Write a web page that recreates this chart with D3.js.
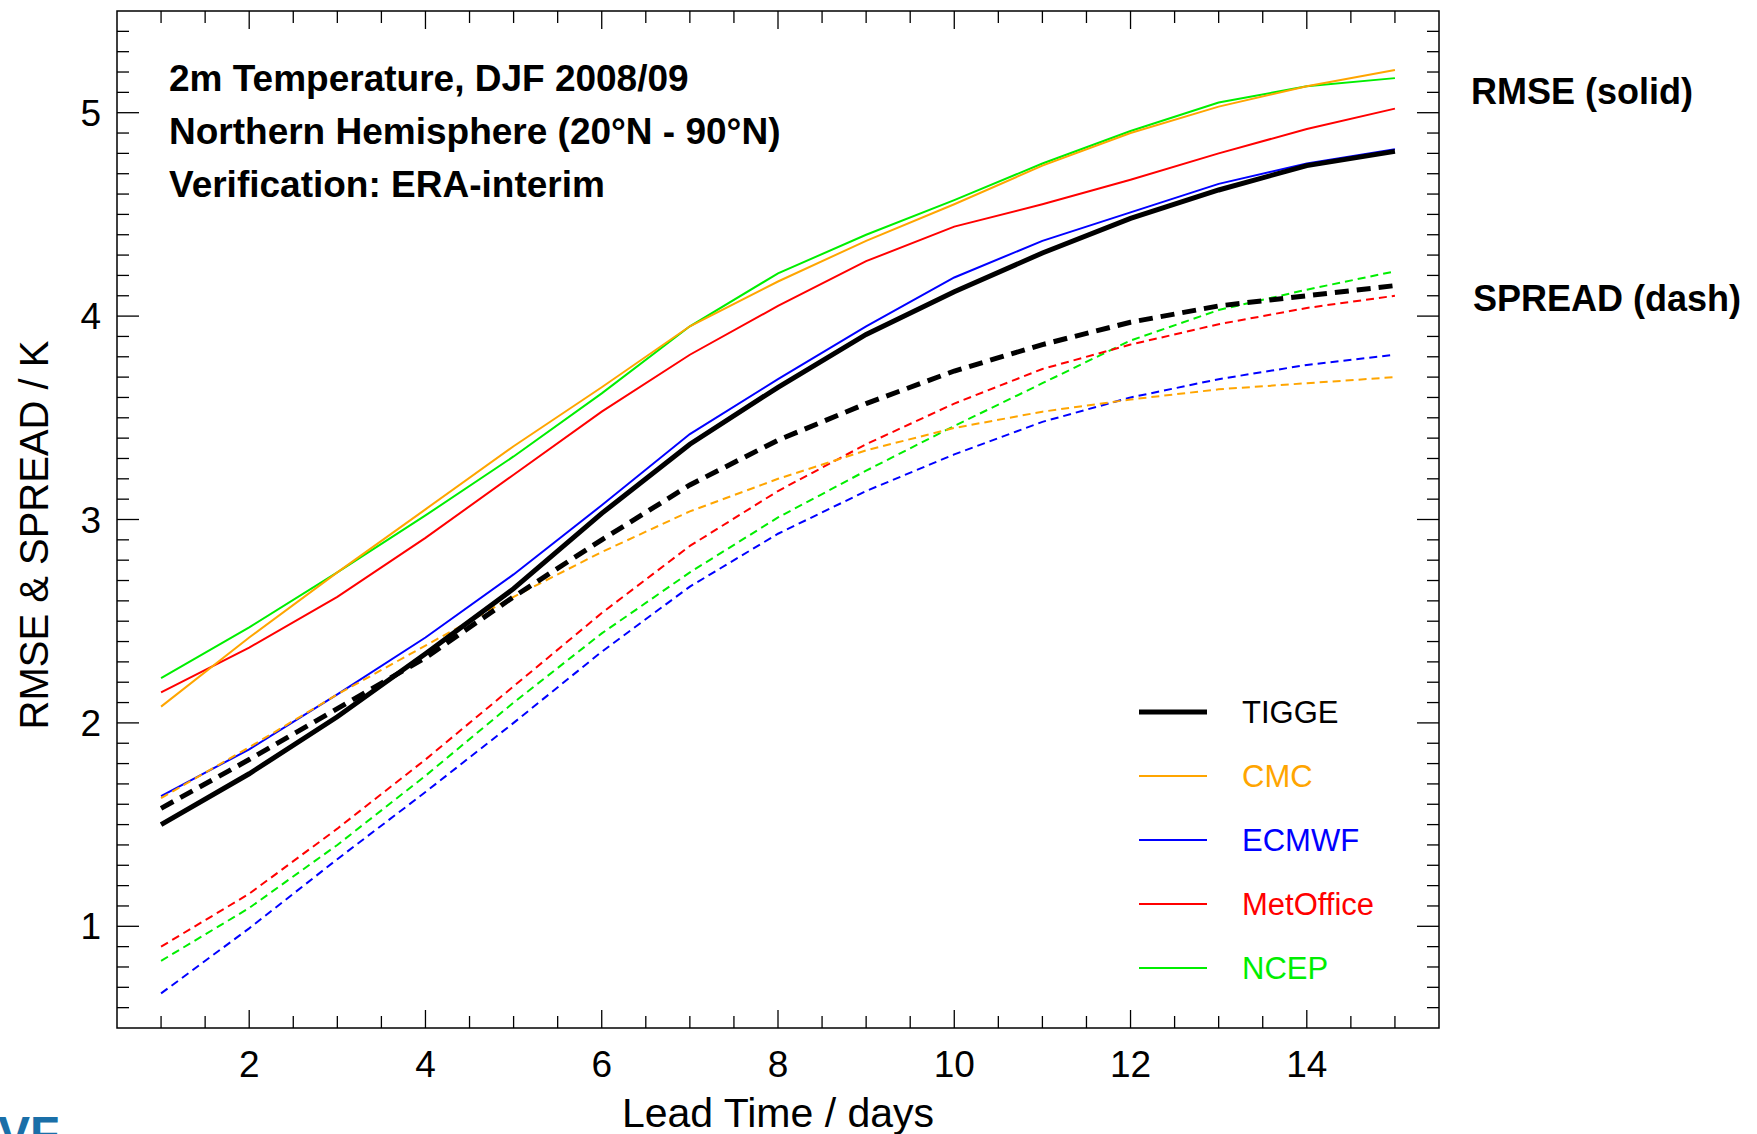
<!DOCTYPE html>
<html>
<head>
<meta charset="UTF-8" />
<script src="https://d3js.org/d3.v7.min.js"></script>
<style>
  body { margin: 0; background: #fff; }
  text { font-family: "Liberation Sans", Arial, sans-serif; }
</style>
</head>
<body>
<svg id="chart" width="1757" height="1134"></svg>
<script>
const days = d3.range(1, 16);
const names = ["TIGGE", "CMC", "ECMWF", "MetOffice", "NCEP"];
const colors = ["#000000", "#ffa500", "#0000ff", "#ff0000", "#00ee00"];
const rmse = {
  TIGGE: [1.50, 1.75, 2.03, 2.34, 2.66, 3.03, 3.37, 3.65, 3.91, 4.12, 4.31, 4.48, 4.62, 4.74, 4.81],
  CMC: [2.08, 2.42, 2.74, 3.05, 3.36, 3.65, 3.95, 4.17, 4.37, 4.55, 4.74, 4.90, 5.03, 5.13, 5.21],
  ECMWF: [1.64, 1.87, 2.14, 2.42, 2.73, 3.07, 3.42, 3.69, 3.95, 4.19, 4.37, 4.51, 4.65, 4.75, 4.82],
  MetOffice: [2.15, 2.37, 2.62, 2.91, 3.22, 3.53, 3.81, 4.05, 4.27, 4.44, 4.55, 4.67, 4.80, 4.92, 5.02],
  NCEP: [2.22, 2.47, 2.74, 3.02, 3.31, 3.62, 3.95, 4.21, 4.40, 4.57, 4.75, 4.91, 5.05, 5.13, 5.17]
};
const spread = {
  TIGGE: [1.58, 1.82, 2.07, 2.32, 2.62, 2.90, 3.17, 3.39, 3.57, 3.73, 3.86, 3.97, 4.05, 4.10, 4.15],
  CMC: [1.63, 1.88, 2.14, 2.38, 2.62, 2.84, 3.04, 3.20, 3.34, 3.45, 3.53, 3.59, 3.64, 3.67, 3.70],
  ECMWF: [0.67, 0.99, 1.33, 1.66, 2.00, 2.35, 2.67, 2.93, 3.14, 3.32, 3.48, 3.60, 3.69, 3.76, 3.81],
  MetOffice: [0.90, 1.16, 1.48, 1.82, 2.18, 2.54, 2.87, 3.14, 3.37, 3.57, 3.74, 3.86, 3.96, 4.04, 4.10],
  NCEP: [0.83, 1.09, 1.40, 1.74, 2.10, 2.44, 2.74, 3.01, 3.24, 3.46, 3.67, 3.88, 4.03, 4.13, 4.22]
};
const xTicks = [2, 4, 6, 8, 10, 12, 14];
const yTicks = [1, 2, 3, 4, 5];
const header = ["2m Temperature, DJF 2008/09", "Northern Hemisphere (20\u00B0N - 90\u00B0N)", "Verification: ERA-interim"];

const L = 117, R = 1439, T = 11, B = 1028;
const svg = d3.select("#chart");
const x = d3.scaleLinear().domain([0.5, 15.5]).range([L, R]);
const y = d3.scaleLinear().domain([0.5, 5.5]).range([B, T]);

// ticks on all four sides
const g = svg.append("g").attr("stroke", "#000").attr("stroke-width", 1.3);
d3.range(1, 15.01, 0.5).forEach(v => {
  const len = xTicks.includes(v) ? 18 : 12;
  g.append("line").attr("x1", x(v)).attr("x2", x(v)).attr("y1", B).attr("y2", B - len);
  g.append("line").attr("x1", x(v)).attr("x2", x(v)).attr("y1", T).attr("y2", T + len);
});
d3.range(6, 55).forEach(i => {
  const v = i / 10;
  const len = i % 10 === 0 ? 22 : 12;
  g.append("line").attr("x1", L).attr("x2", L + len).attr("y1", y(v)).attr("y2", y(v));
  g.append("line").attr("x1", R).attr("x2", R - len).attr("y1", y(v)).attr("y2", y(v));
});
svg.append("rect").attr("x", L).attr("y", T).attr("width", R - L).attr("height", B - T)
  .attr("fill", "none").attr("stroke", "#000").attr("stroke-width", 1.5);

svg.selectAll(".xl").data(xTicks).enter().append("text")
  .attr("x", d => x(d)).attr("y", 1077).attr("text-anchor", "middle")
  .attr("font-size", 37).text(d => d);
svg.selectAll(".yl").data(yTicks).enter().append("text")
  .attr("x", 101).attr("y", d => y(d) + 13).attr("text-anchor", "end")
  .attr("font-size", 37).text(d => d);
svg.append("text").attr("x", x(8)).attr("y", 1127).attr("text-anchor", "middle")
  .attr("font-size", 41).text("Lead Time / days");
svg.append("text").attr("transform", "translate(48,535) rotate(-90)").attr("text-anchor", "middle")
  .attr("font-size", 40).text("RMSE & SPREAD / K");

const line = d3.line().x((d, i) => x(days[i])).y(d => y(d));
const order = ["NCEP", "MetOffice", "ECMWF", "CMC", "TIGGE"];
order.forEach(n => {
  const c = colors[names.indexOf(n)];
  const thick = n === "TIGGE";
  svg.append("path").attr("d", line(spread[n])).attr("fill", "none").attr("stroke", c)
    .attr("stroke-width", thick ? 5 : 2).attr("stroke-dasharray", thick ? "14,8" : "8,5");
  svg.append("path").attr("d", line(rmse[n])).attr("fill", "none").attr("stroke", c)
    .attr("stroke-width", thick ? 5 : 2);
});

header.forEach((t, i) => {
  svg.append("text").attr("x", 169).attr("y", 91 + i * 53).attr("font-size", 37)
    .attr("font-weight", "bold").text(t);
});
svg.append("text").attr("x", 1471).attr("y", 104).attr("font-size", 36).attr("font-weight", "bold").text("RMSE (solid)");
svg.append("text").attr("x", 1473).attr("y", 311).attr("font-size", 36).attr("font-weight", "bold").text("SPREAD (dash)");

names.forEach((n, i) => {
  const yy = 712 + i * 64;
  svg.append("line").attr("x1", 1139).attr("x2", 1207).attr("y1", yy).attr("y2", yy)
    .attr("stroke", colors[i]).attr("stroke-width", i === 0 ? 5 : 2);
  svg.append("text").attr("x", 1242).attr("y", yy + 11).attr("font-size", 31)
    .attr("fill", colors[i]).text(n);
});

svg.append("text").attr("x", -2).attr("y", 1150).attr("font-size", 48).attr("font-weight", "bold")
  .attr("fill", "#1a6fa8").text("VF");
</script>
</body>
</html>
